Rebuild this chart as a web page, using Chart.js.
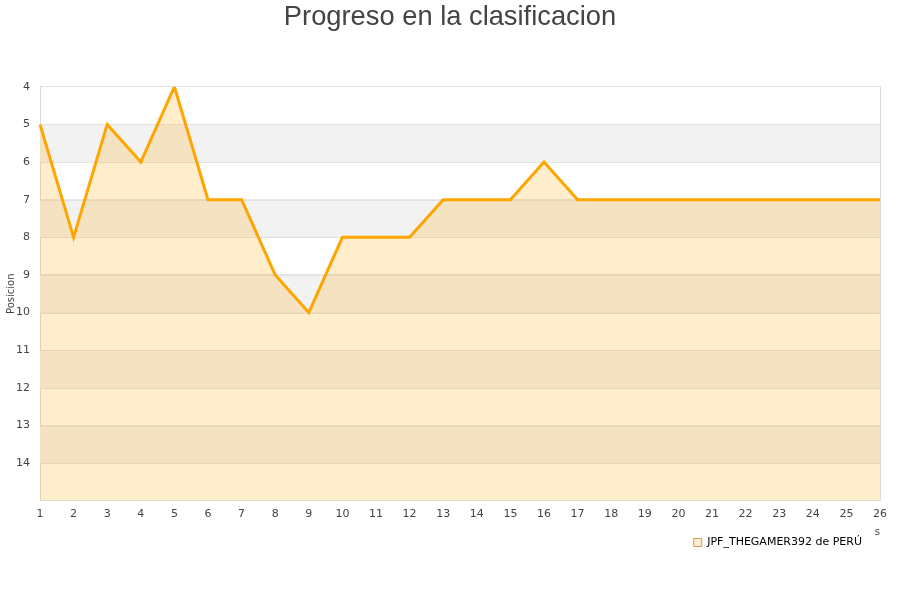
<!DOCTYPE html>
<html><head><meta charset="utf-8">
<script src="https://cdn.jsdelivr.net/npm/chart.js@4.4.0/dist/chart.umd.min.js"></script>
<style>html,body{margin:0;padding:0;background:#fff}#wrap{width:900px;height:600px}</style>
</head><body><div id="wrap"><canvas id="c" width="900" height="600"></canvas></div>
<script>
const jornadas = ['1','2','3','4','5','6','7','8','9','10','11','12','13','14','15','16','17','18','19','20','21','22','23','24','25','26'];
const posiciones = [5,8,5,6,4,7,7,9,10,8,8,8,7,7,7,6,7,7,7,7,7,7,7,7,7,7];
const serieNombre = 'JPF_THEGAMER392 de PERÚ';
const tituloTexto = 'Progreso en la clasificacion';
const ejeY = 'Posicion';
const yMin = 4, yMax = 15;

const bands = {
  id: 'bands',
  beforeDatasetsDraw(chart) {
    const {ctx, chartArea: a, scales: {y}} = chart;
    ctx.save();
    for (let v = yMin; v < yMax; v++) {
      if ((v - yMin) % 2 === 1) {
        const p1 = y.getPixelForValue(v), p2 = y.getPixelForValue(v + 1);
        ctx.fillStyle = '#f2f2f2';
        ctx.fillRect(a.left, Math.min(p1,p2), a.right - a.left, Math.abs(p2 - p1));
      }
    }
    ctx.strokeStyle = '#e2e2e2';
    ctx.lineWidth = 1;
    for (let v = yMin + 1; v < yMax; v++) {
      const p = Math.round(y.getPixelForValue(v)) + 0.5;
      ctx.beginPath(); ctx.moveTo(a.left, p); ctx.lineTo(a.right, p); ctx.stroke();
    }
    ctx.restore();
  }
};

new Chart(document.getElementById('c'), {
  type: 'line',
  data: {
    labels: jornadas,
    datasets: [{
      label: serieNombre,
      data: posiciones,
      borderColor: '#ffa500',
      backgroundColor: 'rgba(255,165,0,0.2)',
      borderWidth: 3,
      pointRadius: 0,
      tension: 0,
      fill: {value: yMax}
    }]
  },
  plugins: [bands],
  options: {
    responsive: false,
    animation: false,
    layout: {padding: {left: 0, right: 0, top: 0, bottom: 42}},
    plugins: {
      title: {
        display: true, text: tituloTexto, color: '#444',
        font: {family: 'Liberation Sans', size: 27.3, weight: 'normal'},
        padding: {top: 1, bottom: 53}
      },
      legend: {
        position: 'bottom', align: 'end', fullSize: false,
        labels: {
          color: '#000', boxWidth: 8, boxHeight: 8, padding: 18,
          font: {family: 'DejaVu Sans', size: 11},
          generateLabels(chart) {
            return [{text: serieNombre, fillStyle: '#ffedcc', strokeStyle: '#c8a060', lineWidth: 1, datasetIndex: 0, fontColor: '#000'}];
          }
        }
      },
      tooltip: {enabled: false}
    },
    scales: {
      x: {
        offset: false,
        grid: {display: false, drawTicks: false},
        border: {color: '#dddddd'},
        ticks: {color: '#444', font: {family: 'DejaVu Sans', size: 11}, padding: 7, maxRotation: 0, autoSkip: false},
        title: {display: true, text: 's', align: 'end', color: '#444', font: {family: 'DejaVu Sans', size: 10}, padding: {top: -2, bottom: -19}}
      },
      y: {
        reverse: true, min: yMin, max: yMax,
        afterFit(scale) { scale.width = 40; },
        grid: {color: '#e2e2e2', drawTicks: false},
        border: {color: '#dddddd'},
        ticks: {
          stepSize: 1, color: '#444', font: {family: 'DejaVu Sans', size: 11}, padding: 10,
          callback: (v) => v >= yMax ? '' : v
        },
        title: {display: true, text: ejeY, color: '#444', font: {family: 'DejaVu Sans', size: 10}, padding: {top: 5, bottom: 0}}
      },
      y2: {
        position: 'right', min: 0, max: 1,
        afterFit(scale) { scale.width = 20; },
        grid: {display: false, drawTicks: false},
        border: {color: '#dddddd'},
        ticks: {display: false}
      }
    }
  },
});
</script></body></html>
